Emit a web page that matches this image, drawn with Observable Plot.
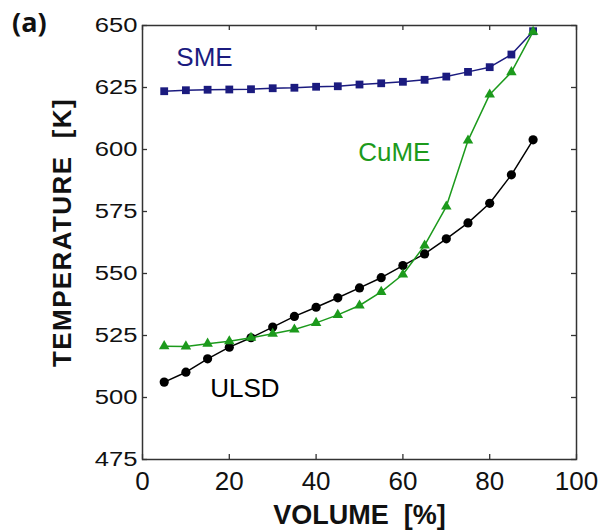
<!DOCTYPE html>
<html>
<head>
<meta charset="utf-8">
<script src="https://cdn.jsdelivr.net/npm/d3@7"></script>
<script src="https://cdn.jsdelivr.net/npm/@observablehq/plot@0.6"></script>
<style>
  body { margin: 0; background: #fff; }
  #wrap { position: relative; width: 609px; height: 531px; font-family: "Liberation Sans", Arial, sans-serif; }
  #tag { position: absolute; left: 12px; top: 3px; font: bold 27px "Open Sans", sans-serif; color: #111; }
  #wrap svg { position: absolute; left: 0; top: 0; }
</style>
</head>
<body>
<div id="wrap"><div id="tag">(a)</div></div>
<script>
// Distilled volume fraction [%] and boiling temperature [K] of each fuel
const volume   = [5, 10, 15, 20, 25, 30, 35, 40, 45, 50, 55, 60, 65, 70, 75, 80, 85, 90];
const smeTemp  = [623.5, 623.9, 624.1, 624.2, 624.3, 624.7, 624.9, 625.3, 625.5, 626.2, 626.7, 627.3, 628.1, 629.4, 631.3, 633.2, 638.3, 647.7];
const cumeTemp = [520.7, 520.6, 521.7, 522.7, 524.1, 525.7, 527.4, 530.1, 533.3, 537.1, 542.6, 549.6, 561.3, 577.0, 603.6, 622.2, 631.2, 647.5];
const ulsdTemp = [506.2, 510.2, 515.6, 520.3, 524.1, 528.4, 532.7, 536.4, 540.2, 544.2, 548.3, 553.2, 557.9, 564.0, 570.4, 578.3, 589.8, 603.9];

const xTicks = [0, 20, 40, 60, 80, 100];
const yTicks = [475, 500, 525, 550, 575, 600, 625, 650];

const seriesNames  = ["SME", "CuME", "ULSD"];
const seriesColors = ["#1b1b7f", "#1c9a1c", "#000000"];
// where each series name is written (volume, temperature)
const labelVolume = [7.8, 49.7, 15.6];
const labelTemp   = [636.9, 598.9, 503.6];

const rows = (name, temps) => volume.map((v, i) => ({ fuel: name, volume: v, temp: temps[i] }));
const sme = rows("SME", smeTemp);
const cume = rows("CuME", cumeTemp);
const ulsd = rows("ULSD", ulsdTemp);
const labels = seriesNames.map((n, i) => ({ name: n, color: seriesColors[i], volume: labelVolume[i], temp: labelTemp[i] }));

const W = 609, H = 531, mL = 142, mR = 33, mT = 25, mB = 72;
const innerW = W - mL - mR, innerH = H - mT - mB, tick = 5;

const chart = Plot.plot({
  width: W, height: H,
  marginLeft: mL, marginRight: mR, marginTop: mT, marginBottom: mB,
  style: { fontFamily: '"Liberation Sans", Arial, sans-serif', background: "transparent", color: "#111" },
  x: { domain: [0, 100] },
  y: { domain: [475, 650] },
  marks: [
    Plot.axisX(xTicks, { tickSize: 0, tickPadding: 12, fontSize: 26, label: null }),
    Plot.axisY(yTicks, { tickSize: 0, tickPadding: 5, fontSize: 20, label: null }),
    // inward ticks on all four sides
    Plot.ruleX(xTicks, { x: d => d, insetTop: innerH - tick, stroke: "#333", strokeWidth: 1.3 }),
    Plot.ruleX(xTicks, { x: d => d, insetBottom: innerH - tick, stroke: "#333", strokeWidth: 1.3 }),
    Plot.ruleY(yTicks, { y: d => d, insetRight: innerW - tick, stroke: "#333", strokeWidth: 1.3 }),
    Plot.ruleY(yTicks, { y: d => d, insetLeft: innerW - tick, stroke: "#333", strokeWidth: 1.3 }),
    Plot.frame({ stroke: "#333", strokeWidth: 1.5 }),
    Plot.line(ulsd, { x: "volume", y: "temp", stroke: seriesColors[2], strokeWidth: 1.5 }),
    Plot.dot(ulsd, { x: "volume", y: "temp", r: 4.6, fill: seriesColors[2], symbol: "circle" }),
    Plot.line(sme, { x: "volume", y: "temp", stroke: seriesColors[0], strokeWidth: 1.5 }),
    Plot.dot(sme, { x: "volume", y: "temp", r: 4.4, fill: seriesColors[0], symbol: "square" }),
    Plot.line(cume, { x: "volume", y: "temp", stroke: seriesColors[1], strokeWidth: 1.5 }),
    Plot.dot(cume, { x: "volume", y: "temp", r: 3.9, fill: seriesColors[1], symbol: "triangle" }),
    Plot.text(labels, { x: "volume", y: "temp", text: "name", fill: "color", fontSize: 26, textAnchor: "start", lineAnchor: "middle" }),
    Plot.text(["VOLUME\u00a0\u00a0[%]"], { frameAnchor: "bottom", dy: 55.5, fontSize: 27, fontWeight: "bold", textAnchor: "middle", lineAnchor: "middle", fill: "#111" }),
    Plot.text(["TEMPERATURE\u00a0\u00a0[K]"], { frameAnchor: "left", rotate: -90, dx: -80, dy: -10, fontSize: 26, fontWeight: "bold", textAnchor: "middle", lineAnchor: "middle", fill: "#111" })
  ]
});

// the temperature tick labels are set wider than tall
const stretch = 1.28;
d3.select(chart).selectAll('g[aria-label="y-axis tick label"] text').each(function () {
  const t = d3.select(this);
  const x = +(t.attr("x") || 0);
  if (x) t.attr("x", x / stretch);
  const tr = t.attr("transform") || "";
  t.attr("transform", (tr + " scale(" + stretch + ",1)").trim());
});
// letter spacing of the vertical axis title
d3.select(chart).selectAll("text").filter(function () { return this.textContent.startsWith("TEMPERATURE"); })
  .attr("letter-spacing", "1.4px");

document.getElementById("wrap").appendChild(chart);
</script>
</body>
</html>
